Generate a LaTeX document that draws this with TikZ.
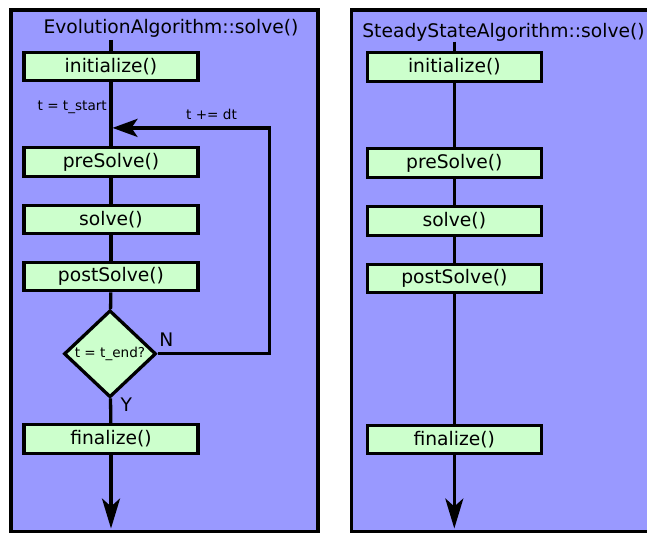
\documentclass[tikz,border=0pt]{standalone}
\usepackage{fontspec}
\setmainfont{DejaVu Sans}
\usetikzlibrary{arrows.meta,shapes.geometric}
\definecolor{panelblue}{HTML}{9999FF}
\definecolor{stepgreen}{HTML}{CCFFCC}

\begin{document}
\begin{tikzpicture}[x=1pt,y=-1pt,
  panel/.style={draw=black, line width=3.3pt, fill=panelblue},
  stepbox/.style={draw=black, line width=3.3pt, fill=stepgreen,
    minimum width=174pt, minimum height=28.5pt, inner sep=0pt,
    font=\fontsize{18.7}{22}\selectfont},
  test/.style={diamond, draw=black, line width=3.3pt, fill=stepgreen,
    minimum width=92pt, minimum height=87pt, inner sep=0pt,
    font=\fontsize{13.6}{16}\selectfont},
  flow/.style={line width=3.3pt},
  heading/.style={anchor=base, inner sep=0pt, font=\fontsize{18.7}{22}\selectfont},
  small/.style={inner sep=0pt, font=\fontsize{13.6}{16}\selectfont},
  endtip/.style={-{Stealth[length=30pt,width=18pt,inset=8pt]}},
  looptip/.style={-{Stealth[length=25pt,width=18pt,inset=6pt]}},
]
\useasboundingbox (0,0) rectangle (647,534);
\clip (0,0) rectangle (647,534);

% panels
\path[panel] (11,10) rectangle (318,531.5);
\path[panel] (351.7,10) rectangle (670,531.5);

% ---- evolution algorithm ----
\node[heading] (ltitle) at (171,33.3) {EvolutionAlgorithm::solve()};
\coordinate (ltop) at (111,40);
\node[stepbox] (linit) at (111,66.5) {initialize()};
\node[stepbox] (lpre)  at (111,162)  {preSolve()};
\node[stepbox] (lsol)  at (111,219.5) {solve()};
\node[stepbox] (lpost) at (111,276.5) {postSolve()};
\node[test]    (ltest) at (110,353.8) {t = t\_end?};
\node[stepbox] (lfin)  at (111,439)  {finalize()};
\coordinate (lend)  at (111,528.5);
\coordinate (merge) at (112.5,127.9);
\coordinate (lback) at (269.7,127.9);

\draw[flow] (ltop) -- (linit);
\draw[flow] (linit) -- (lpre);
\draw[flow] (lpre) -- (lsol);
\draw[flow] (lsol) -- (lpost);
\draw[flow] (lpost) -- (ltest);
\draw[flow] (ltest) -- (lfin);
\draw[flow,endtip] (lfin) -- (lend);
\draw[flow,looptip] (ltest.east) -| (lback) -- (merge);

\node[small, anchor=base east] (lstart) at (107,111) {t = t\_start};
\node[small, anchor=base] (lstep) at (211.5,120) {t += dt};
\node[heading] (lno)  at (166.3,346) {N};
\node[heading] (lyes) at (126.3,411.7) {Y};

% ---- steady state algorithm ----
\node[heading] (rtitle) at (503.5,37.3) {SteadyStateAlgorithm::solve()};
\coordinate (rtop) at (454.3,41.7);
\node[stepbox] (rinit) at (454.3,67)    {initialize()};
\node[stepbox] (rpre)  at (454.3,163)   {preSolve()};
\node[stepbox] (rsol)  at (454.3,221)   {solve()};
\node[stepbox] (rpost) at (454.3,278.5) {postSolve()};
\node[stepbox] (rfin)  at (454.3,439.5) {finalize()};
\coordinate (rend) at (454.3,528.5);

\draw[flow] (rtop) -- (rinit);
\draw[flow] (rinit) -- (rpre);
\draw[flow] (rpre) -- (rsol);
\draw[flow] (rsol) -- (rpost);
\draw[flow] (rpost) -- (rfin);
\draw[flow,endtip] (rfin) -- (rend);
\end{tikzpicture}
\end{document}
